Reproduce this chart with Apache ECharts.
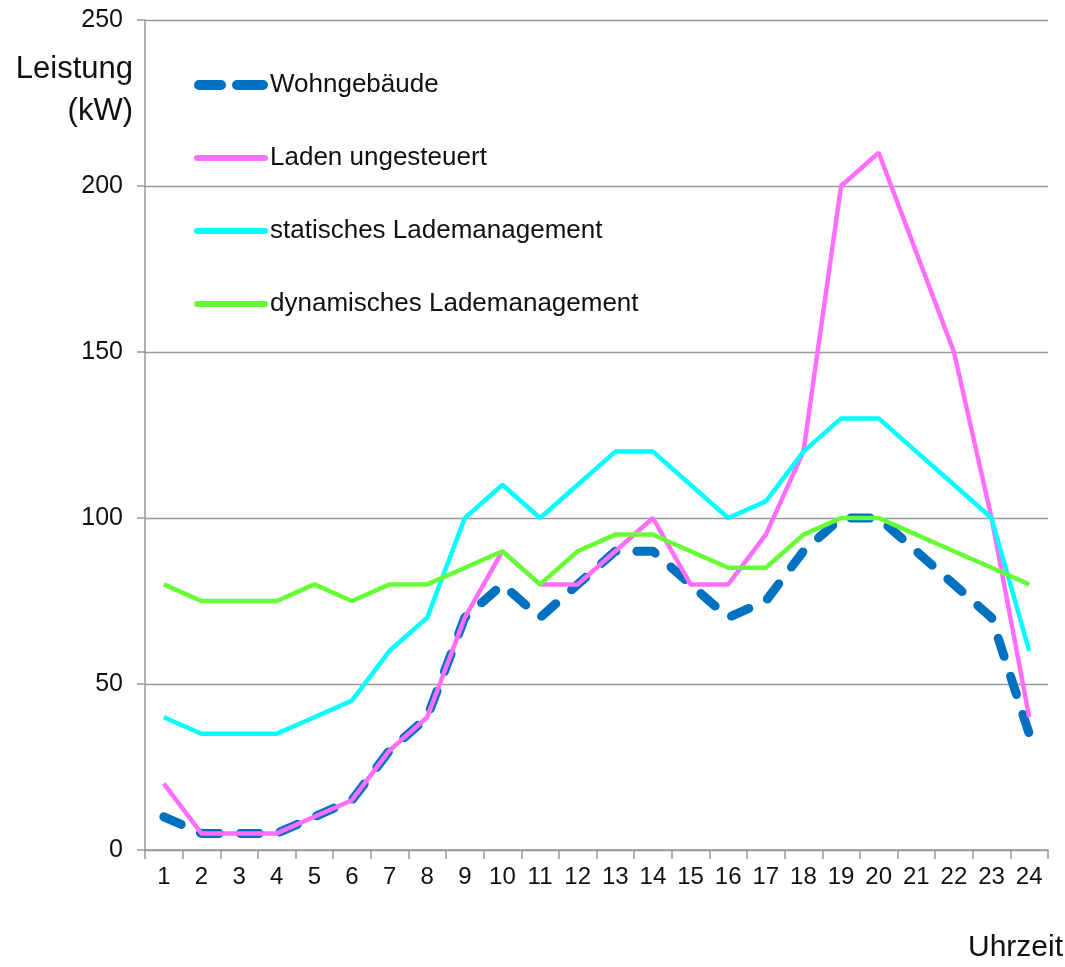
<!DOCTYPE html>
<html><head><meta charset="utf-8">
<script src="https://cdn.jsdelivr.net/npm/echarts@6/dist/echarts.min.js"></script>
<style>html,body{margin:0;padding:0;background:#fff}#c{width:1065px;height:967px}</style>
</head><body><div id="c"></div>
<script>
const hours = ['1','2','3','4','5','6','7','8','9','10','11','12','13','14','15','16','17','18','19','20','21','22','23','24'];
const wohngebaeude = [10,5,5,5,10,15,30,40,70,80,70,80,90,90,80,70,75,90,100,100,90,80,70,35];
const ladenUngesteuert = [20,5,5,5,10,15,30,40,70,90,80,80,90,100,80,80,95,120,200,210,180,150,100,40];
const statisch = [40,35,35,35,40,45,60,70,100,110,100,110,120,120,110,100,105,120,130,130,120,110,100,60];
const dynamisch = [80,75,75,75,80,75,80,80,85,90,80,90,95,95,90,85,85,95,100,100,95,90,85,80];
const yTicks = [0,50,100,150,200,250];

const font = 'Liberation Sans, Arial, sans-serif';
const dashedIcon = 'path://M5,0 H27 A5,5 0 0 1 27,10 H5 A5,5 0 0 1 5,0 Z M43,0 H69 A5,5 0 0 1 69,10 H43 A5,5 0 0 1 43,0 Z';
const solidIcon = 'path://M3,0 H71 A3,3 0 0 1 71,6 H3 A3,3 0 0 1 3,0 Z';
const chart = echarts.init(document.getElementById('c'));
chart.setOption({
  animation: false,
  grid: {left: 145, right: 17, top: 20, bottom: 117},
  legend: {
    orient: 'vertical', left: 189, top: 67, itemWidth: 74, itemHeight: 10, itemGap: 47,
    textStyle: {fontFamily: font, fontSize: 26, color: '#111', padding: [0,0,0,-3]},
    data: [
      {name: 'Wohngebäude', icon: dashedIcon},
      {name: 'Laden ungesteuert', icon: solidIcon},
      {name: 'statisches Lademanagement', icon: solidIcon},
      {name: 'dynamisches Lademanagement', icon: solidIcon}
    ]
  },
  xAxis: {
    type: 'category', data: hours, boundaryGap: true,
    axisLine: {lineStyle: {color: '#999', width: 1.5}},
    axisTick: {show: true, length: 9, lineStyle: {color: '#999', width: 1.5}},
    axisLabel: {fontFamily: font, fontSize: 24, color: '#111', margin: 15}
  },
  yAxis: {
    type: 'value', min: 0, max: 250, interval: 50,
    axisLine: {show: true, lineStyle: {color: '#999', width: 1.5}},
    axisTick: {show: true, length: 8, inside: false, lineStyle: {color: '#999', width: 1.5}},
    splitLine: {lineStyle: {color: '#999', width: 1.3}},
    axisLabel: {fontFamily: font, fontSize: 25, color: '#111', margin: 22,
      formatter: v => yTicks.includes(v) ? String(v) : ''}
  },
  graphic: [
    {type: 'text', right: 1065 - 133, top: 54, style: {text: 'Leistung', font: '31px ' + font, fill: '#111', textAlign: 'right'}},
    {type: 'text', right: 1065 - 133, top: 96, style: {text: '(kW)', font: '31px ' + font, fill: '#111', textAlign: 'right'}},
    {type: 'text', right: 2, top: 933, style: {text: 'Uhrzeit', font: '30px ' + font, fill: '#111'}}
  ],
  series: [
    {name: 'Wohngebäude', type: 'line', data: wohngebaeude, symbol: 'none', z: 2,
      lineStyle: {color: '#0070C0', width: 9, type: [19, 21], cap: 'round', join: 'round'}, itemStyle: {color: '#0070C0'}},
    {name: 'Laden ungesteuert', type: 'line', data: ladenUngesteuert, symbol: 'none', z: 3,
      lineStyle: {color: '#FF6EFF', width: 4.5}, itemStyle: {color: '#FF6EFF'}},
    {name: 'statisches Lademanagement', type: 'line', data: statisch, symbol: 'none', z: 3,
      lineStyle: {color: '#00FFFF', width: 4.5}, itemStyle: {color: '#00FFFF'}},
    {name: 'dynamisches Lademanagement', type: 'line', data: dynamisch, symbol: 'none', z: 3,
      lineStyle: {color: '#66FF33', width: 4.5}, itemStyle: {color: '#66FF33'}}
  ]
});
</script></body></html>
